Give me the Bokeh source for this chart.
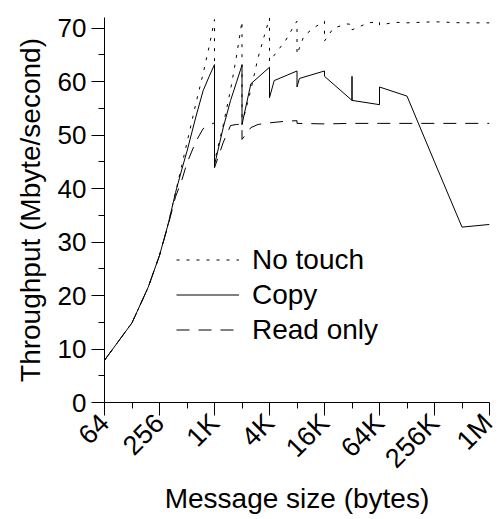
import math
from bokeh.plotting import figure
from bokeh.models import FixedTicker, Legend, LegendItem, Range1d
from bokeh.embed import file_html
from bokeh.resources import INLINE

# ---------------- data (message size in bytes, throughput in Mbyte/s) -------------
notouch_x = [64, 128, 192, 256, 320, 384, 448, 512, 640, 768, 896, 1024, 1024,
             1280, 1536, 1792, 2048, 2048, 2560, 3072, 3584, 4096, 4096, 6144,
             7680, 8192, 8192, 9728, 12288, 16384, 16384, 20480, 28672, 32768,
             32768, 40960, 49152, 65536, 65536, 98304, 131072, 262144, 524288,
             1048576]
notouch_y = [7.9, 14.9, 21.5, 27.5, 33.5, 39.3, 44.3, 48.6, 55.9, 61.5, 66.6,
             71.6, 45.0, 52.0, 58.5, 65.0, 71.3, 52.0, 58.5, 64.5, 68.5, 71.9,
             63.8, 67.7, 70.6, 71.3, 65.1, 68.5, 70.0, 71.3, 67.6, 70.0, 70.8,
             70.7, 69.7, 70.4, 71.0, 71.2, 70.6, 71.1, 71.0, 71.2, 71.0, 71.0]

copy_x = [64, 128, 192, 256, 320, 384, 448, 512, 640, 768, 896, 1024, 1024,
          1280, 1536, 1792, 2048, 2048, 2560, 4096, 4096, 4608, 8192, 8192,
          8704, 16384, 16384, 32768, 32768, 32768, 65536, 65536, 131072,
          262144, 524288, 1048576]
copy_y = [7.9, 14.9, 21.5, 27.5, 33.5, 39.3, 43.5, 47.0, 53.4, 58.3, 61.0,
          63.2, 44.4, 51.5, 56.5, 60.0, 63.1, 52.0, 59.6, 62.7, 57.0, 60.2,
          62.0, 59.0, 60.6, 62.0, 61.0, 56.5, 61.0, 56.5, 55.7, 59.0, 57.3,
          45.0, 32.8, 33.3]

readonly_x = [64, 128, 192, 256, 320, 384, 448, 512, 640, 768, 896, 1024, 1024,
              1280, 1536, 1792, 2048, 2048, 2560, 3072, 4096, 6144, 8192, 8192,
              16384, 32768, 65536, 131072, 262144, 524288, 1048576]
readonly_y = [7.9, 14.9, 21.5, 27.5, 33.3, 38.5, 41.5, 44.8, 48.8, 51.2, 51.9,
              52.3, 43.9, 48.7, 51.8, 52.0, 52.0, 49.2, 51.4, 52.0, 52.3, 52.6,
              52.7, 52.2, 52.1, 52.2, 52.2, 52.2, 52.2, 52.2, 52.2]

x_major_ticks = [64, 256, 1024, 4096, 16384, 65536, 262144, 1048576]
x_minor_ticks = [128, 512, 2048, 8192, 32768, 131072, 524288]
x_tick_labels = ["64", "256", "1K", "4K", "16K", "64K", "256K", "1M"]
y_major_ticks = [0, 10, 20, 30, 40, 50, 60, 70]
y_minor_ticks = [5, 15, 25, 35, 45, 55, 65]

FONT = "Liberation Sans"

p = figure(width=498, height=519, x_axis_type="log",
           x_range=Range1d(64, 1048576), y_range=Range1d(0, 72),
           output_backend="svg", toolbar_location=None,
           min_border_left=104, min_border_right=9,
           min_border_top=17, min_border_bottom=117)
p.outline_line_color = None
p.grid.visible = False
p.background_fill_color = "white"
p.border_fill_color = "white"

r1 = p.line(notouch_x, notouch_y, line_color="black", line_width=1, line_dash="3 7")
r2 = p.line(copy_x, copy_y, line_color="black", line_width=1)
r3 = p.line(readonly_x, readonly_y, line_color="black", line_width=1, line_dash="13 9")

xa = p.xaxis[0]
xa.ticker = FixedTicker(ticks=x_major_ticks, minor_ticks=x_minor_ticks)
xa.major_label_overrides = {t: l for t, l in zip(x_major_ticks, x_tick_labels)}
xa.major_label_orientation = math.pi / 4
xa.axis_label = "Message size (bytes)"

ya = p.yaxis[0]
ya.ticker = FixedTicker(ticks=y_major_ticks, minor_ticks=y_minor_ticks)
ya.axis_label = "Throughput (Mbyte/second)"

for ax in (xa, ya):
    ax.axis_line_color = "black"
    ax.major_tick_line_color = "black"
    ax.minor_tick_line_color = "black"
    ax.major_tick_out = 13
    ax.major_tick_in = 0
    ax.minor_tick_out = 6
    ax.minor_tick_in = 0
    ax.major_label_text_font = FONT
    ax.major_label_text_color = "black"
    ax.axis_label_text_font = FONT
    ax.axis_label_text_font_size = "28px"
    ax.axis_label_text_font_style = "normal"
    ax.axis_label_text_color = "black"

xa.major_label_text_font_size = "27px"
ya.major_label_text_font_size = "26px"
xa.major_label_standoff = 3
xa.axis_label_standoff = -4
ya.major_label_standoff = 5
ya.axis_label_standoff = 9

legend = Legend(items=[LegendItem(label="No touch", renderers=[r1]),
                       LegendItem(label="Copy", renderers=[r2]),
                       LegendItem(label="Read only", renderers=[r3])],
                location=(72, 55), glyph_width=63, glyph_height=35,
                label_height=35, label_standoff=13, spacing=0, padding=0,
                margin=0, border_line_alpha=0, background_fill_alpha=0,
                label_text_font=FONT, label_text_font_size="28px",
                label_text_color="black")
p.add_layout(legend)

open("out.html", "w").write(file_html(p, INLINE))
